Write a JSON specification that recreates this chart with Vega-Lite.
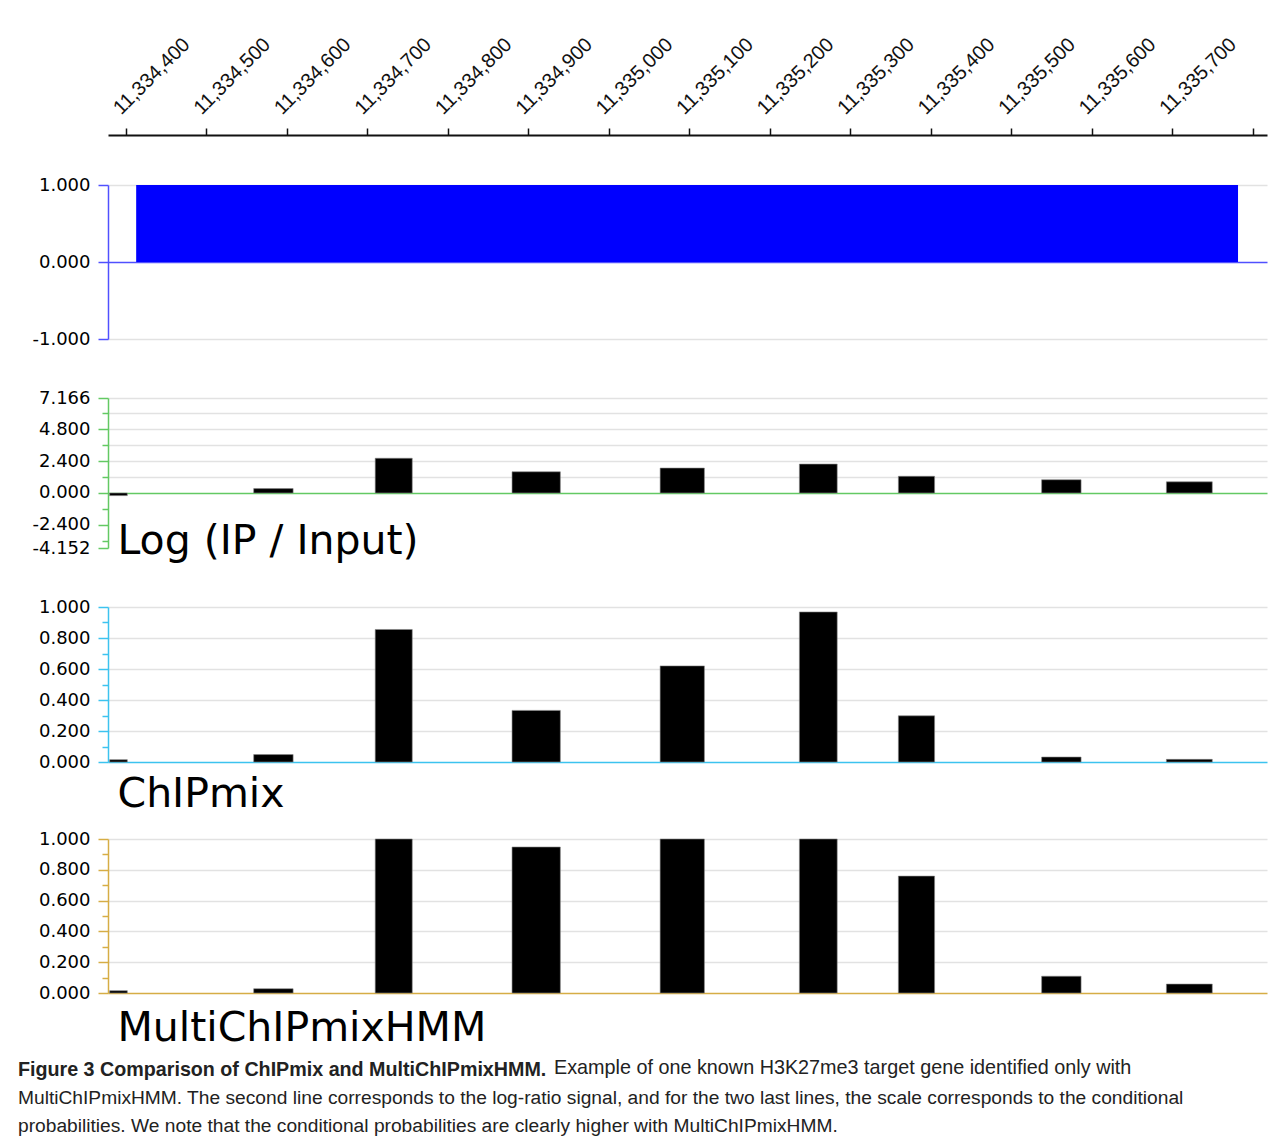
{
  "$schema": "https://vega.github.io/schema/vega-lite/v6.json",
  "background": "white",
  "padding": {"left": 17, "top": 33, "right": 5, "bottom": 5},
  "config": {
    "font": "DejaVu Sans",
    "view": {"stroke": null},
    "axis": {"labelFont": "DejaVu Sans", "labelFontSize": 18, "labelColor": "#000", "gridColor": "#e2e2e2", "gridWidth": 1.5, "titleFont": "DejaVu Sans"},
    "title": {"font": "Liberation Sans", "fontSize": 19.7, "color": "#222", "subtitleFont": "Liberation Sans", "subtitleFontSize": 19.2, "subtitleColor": "#222"}
  },
  "datasets": {
    "bins": [
      {"start": 11334380, "end": 11334402, "log_ratio": -0.2, "chipmix": 0.015, "multichipmixhmm": 0.015},
      {"start": 11334559, "end": 11334608, "log_ratio": 0.33, "chipmix": 0.048, "multichipmixhmm": 0.028},
      {"start": 11334710, "end": 11334756, "log_ratio": 2.62, "chipmix": 0.855, "multichipmixhmm": 1.0},
      {"start": 11334880, "end": 11334940, "log_ratio": 1.6, "chipmix": 0.333, "multichipmixhmm": 0.948},
      {"start": 11335064, "end": 11335119, "log_ratio": 1.88, "chipmix": 0.62, "multichipmixhmm": 1.0},
      {"start": 11335237, "end": 11335284, "log_ratio": 2.18, "chipmix": 0.968, "multichipmixhmm": 1.0},
      {"start": 11335360, "end": 11335405, "log_ratio": 1.26, "chipmix": 0.298, "multichipmixhmm": 0.759},
      {"start": 11335538, "end": 11335587, "log_ratio": 1.0, "chipmix": 0.032, "multichipmixhmm": 0.109},
      {"start": 11335693, "end": 11335750, "log_ratio": 0.84, "chipmix": 0.017, "multichipmixhmm": 0.058}
    ],
    "region": [{"start": 11334413, "end": 11335782, "enrichment": 1}]
  },
  "title": {
    "text": "Figure 3 Comparison of ChIPmix and MultiChIPmixHMM.",
    "subtitle": ["MultiChIPmixHMM. The second line corresponds to the log-ratio signal, and for the two last lines, the scale corresponds to the conditional", "probabilities. We note that the conditional probabilities are clearly higher with MultiChIPmixHMM."],
    "orient": "bottom",
    "anchor": "start",
    "fontWeight": "bold",
    "subtitleFontWeight": "normal",
    "subtitlePadding": 9,
    "subtitleLineHeight": 28,
    "offset": -18,
    "dx": -14
  },
  "resolve": {"scale": {"x": "independent", "y": "independent"}},
  "spacing": 16,
  "vconcat": [
    {
      "bounds": "flush",
      "spacing": 59,
      "resolve": {"scale": {"x": "independent", "y": "independent"}},
      "vconcat": [
        {
          "width": 1159,
          "height": 154,
          "data": {"name": "region"},
          "mark": {"type": "rect", "color": "#0000ff"},
          "encoding": {
            "x": {"field": "start", "type": "quantitative",
              "scale": {"domain": [11334378, 11335818], "nice": false, "zero": false},
              "axis": {"orient": "top", "offset": 50, "title": null, "grid": false,
                "values": [11334400, 11334500, 11334600, 11334700, 11334800, 11334900, 11335000, 11335100, 11335200, 11335300, 11335400, 11335500, 11335600, 11335700, 11335800],
                "labelExpr": "datum.value > 11335750 ? '' : format(datum.value, ',')",
                "labelAngle": -45, "labelAlign": "left", "labelBaseline": "alphabetic",
                "labelFont": "Liberation Sans", "labelFontSize": 20, "labelColor": "#111",
                "labelOffset": -5, "labelPadding": 13, "labelOverlap": false, "labelBound": false,
                "domainColor": "#111", "domainWidth": 2, "tickColor": "#111", "tickWidth": 1.5, "tickSize": 7}},
            "x2": {"field": "end"},
            "y": {"field": "enrichment", "type": "quantitative",
              "scale": {"domain": [-1, 1], "nice": false, "zero": false},
              "axis": {"title": null, "values": [-1, 0, 1],
                "labelExpr": "replace(format(datum.value, '.3f'), '\u2212', '-')",
                "domainColor": "#5050ff", "domainWidth": 1.5, "tickColor": "#5050ff", "tickWidth": 1.5, "tickSize": 10,
                "gridColor": {"condition": {"test": "datum.value == 0", "value": "#5050ff"}, "value": "#e2e2e2"},
                "labelPadding": 8, "labelOverlap": false}},
            "y2": {"datum": 0}
          }
        },
        {
          "width": 1159,
          "height": 150,
          "data": {"name": "bins"},
          "mark": {"type": "rect", "color": "#000000", "stroke": "#888888", "strokeWidth": 0.6},
          "encoding": {
            "x": {"field": "start", "type": "quantitative",
              "scale": {"domain": [11334378, 11335818], "nice": false, "zero": false},
              "axis": {"orient": "bottom", "labels": false, "ticks": false, "domain": false, "grid": false,
                "title": "Log (IP / Input)", "titleFontSize": 41, "titleFontWeight": "normal", "titleColor": "#000",
                "titleAnchor": "start", "titleAlign": "left", "titleBaseline": "alphabetic", "titleX": 9, "titleY": 5}},
            "x2": {"field": "end"},
            "y": {"field": "log_ratio", "type": "quantitative",
              "scale": {"domain": [-4.152, 7.166], "nice": false, "zero": false},
              "axis": {"title": null,
                "values": [7.166, 6, 4.8, 3.6, 2.4, 1.2, 0, -1.2, -2.4, -3.6, -4.152],
                "labelExpr": "indexof([6, 3.6, 1.2, -1.2, -3.6], datum.value) >= 0 ? '' : replace(format(datum.value, '.3f'), '\u2212', '-')",
                "domainColor": "#63c963", "domainWidth": 1.5, "tickColor": "#63c963", "tickWidth": 1.5,
                "tickSize": {"condition": {"test": "indexof([6, 3.6, 1.2, -1.2, -3.6], datum.value) >= 0", "value": 6}, "value": 10},
                "gridOpacity": {"condition": {"test": "datum.value >= 0", "value": 1}, "value": 0},
                "gridColor": {"condition": {"test": "datum.value == 0", "value": "#63c963"}, "value": "#e2e2e2"},
                "labelPadding": 8, "labelOverlap": false}},
            "y2": {"datum": 0}
          }
        },
        {
          "width": 1159,
          "height": 155,
          "data": {"name": "bins"},
          "mark": {"type": "rect", "color": "#000000", "stroke": "#888888", "strokeWidth": 0.6},
          "encoding": {
            "x": {"field": "start", "type": "quantitative",
              "scale": {"domain": [11334378, 11335818], "nice": false, "zero": false},
              "axis": {"orient": "bottom", "labels": false, "ticks": false, "domain": false, "grid": false,
                "title": "ChIPmix", "titleFontSize": 41, "titleFontWeight": "normal", "titleColor": "#000",
                "titleAnchor": "start", "titleAlign": "left", "titleBaseline": "alphabetic", "titleX": 9, "titleY": 44}},
            "x2": {"field": "end"},
            "y": {"field": "chipmix", "type": "quantitative",
              "scale": {"domain": [0, 1], "nice": false},
              "axis": {"title": null,
                "values": [0, 0.1, 0.2, 0.3, 0.4, 0.5, 0.6, 0.7, 0.8, 0.9, 1],
                "labelExpr": "indexof([0.1, 0.3, 0.5, 0.7, 0.9], datum.value) >= 0 ? '' : format(datum.value, '.3f')",
                "domainColor": "#3cc3ef", "domainWidth": 1.5, "tickColor": "#3cc3ef", "tickWidth": 1.5,
                "tickSize": {"condition": {"test": "indexof([0.1, 0.3, 0.5, 0.7, 0.9], datum.value) >= 0", "value": 6}, "value": 10},
                "gridOpacity": {"condition": {"test": "indexof([0, 0.2, 0.4, 0.6, 0.8, 1], datum.value) >= 0", "value": 1}, "value": 0},
                "gridColor": {"condition": {"test": "datum.value == 0", "value": "#3cc3ef"}, "value": "#e2e2e2"},
                "labelPadding": 8, "labelOverlap": false}},
            "y2": {"datum": 0}
          }
        }
      ]
    },
    {
      "width": 1159,
      "height": 154,
      "data": {"name": "bins"},
      "title": {"text": "Example of one known H3K27me3 target gene identified only with", "orient": "bottom", "anchor": "start", "frame": "group", "dx": 446, "offset": 10, "fontWeight": "normal", "fontSize": 19.8},
      "mark": {"type": "rect", "color": "#000000", "stroke": "#888888", "strokeWidth": 0.6},
      "encoding": {
        "x": {"field": "start", "type": "quantitative",
          "scale": {"domain": [11334378, 11335818], "nice": false, "zero": false},
          "axis": {"orient": "bottom", "labels": false, "ticks": false, "domain": false, "grid": false,
            "title": "MultiChIPmixHMM", "titleFontSize": 41, "titleFontWeight": "normal", "titleColor": "#000",
            "titleAnchor": "start", "titleAlign": "left", "titleBaseline": "alphabetic", "titleX": 9, "titleY": 47}},
        "x2": {"field": "end"},
        "y": {"field": "multichipmixhmm", "type": "quantitative",
          "scale": {"domain": [0, 1], "nice": false},
          "axis": {"title": null,
            "values": [0, 0.1, 0.2, 0.3, 0.4, 0.5, 0.6, 0.7, 0.8, 0.9, 1],
            "labelExpr": "indexof([0.1, 0.3, 0.5, 0.7, 0.9], datum.value) >= 0 ? '' : ' ' + format(datum.value, '.3f')",
            "domainColor": "#d6ad45", "domainWidth": 1.5, "tickColor": "#d6ad45", "tickWidth": 1.5,
            "tickSize": {"condition": {"test": "indexof([0.1, 0.3, 0.5, 0.7, 0.9], datum.value) >= 0", "value": 6}, "value": 10},
            "gridOpacity": {"condition": {"test": "indexof([0, 0.2, 0.4, 0.6, 0.8, 1], datum.value) >= 0", "value": 1}, "value": 0},
            "gridColor": {"condition": {"test": "datum.value == 0", "value": "#d6ad45"}, "value": "#e2e2e2"},
            "labelPadding": 8, "labelOverlap": false}},
        "y2": {"datum": 0}
      }
    }
  ]
}
